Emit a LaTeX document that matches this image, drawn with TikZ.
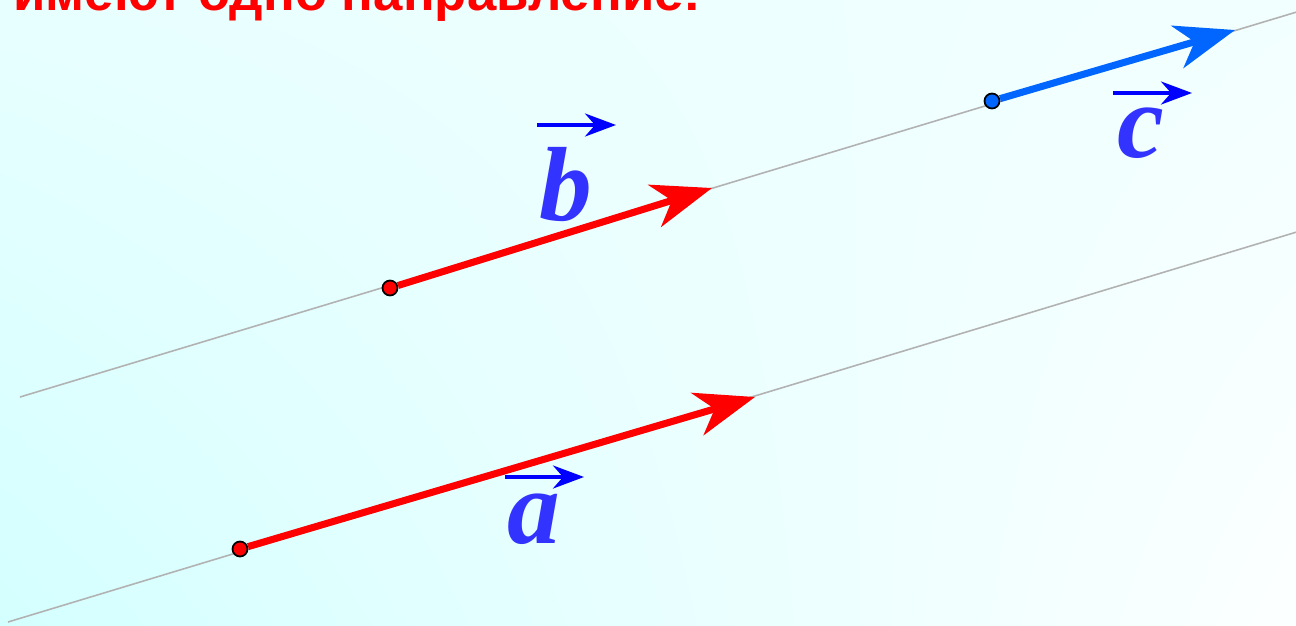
\documentclass[tikz,border=0pt]{standalone}
\usepackage{fontspec}
\setmainfont{Liberation Serif}
\newfontfamily\headfont{Liberation Sans}
\usetikzlibrary{arrows.meta,shadings}
\usepackage{xcolor}
\definecolor{bgul}{RGB}{232,255,255}
\definecolor{bgll}{RGB}{212,255,255}
\definecolor{bgur}{RGB}{242,255,255}
\definecolor{bglr}{RGB}{252,255,255}
\definecolor{guidegray}{RGB}{178,178,178}
\definecolor{vecred}{RGB}{255,0,0}
\definecolor{vecblue}{RGB}{0,102,255}
\definecolor{lblblue}{RGB}{51,51,255}
\definecolor{arrblue}{RGB}{0,0,255}

\begin{document}
\begin{tikzpicture}[
  x=0.02cm, y=-0.02cm,
  guide/.style={guidegray, line width=0.9pt},
  vec/.style={line width=4pt, -{Stealth[length=1.2cm, width=0.88cm, inset=0.36cm]}},
  pt/.style={circle, draw=black, line width=1pt, minimum size=0.3cm, inner sep=0pt},
  lbl/.style={lblblue, inner sep=0pt, anchor=base,
    font=\fontsize{60}{64}\selectfont\bfseries\itshape},
  overarr/.style={arrblue, line width=2.2pt,
    -{Stealth[length=0.62cm, width=0.46cm, inset=0.2cm]}}
]

%% ── Background ───────────────────────────────────────────────────────────────
\useasboundingbox (0,0) rectangle (1296,626);
\clip (0,0) rectangle (1296,626);
\shade[upper left=bgul, lower left=bgll, upper right=bgur, lower right=bglr]
  (0,0) rectangle (1296,626);

%% ── Heading (cut by the top edge) ────────────────────────────────────────────
\node[anchor=base west, inner sep=0pt, text=vecred,
  font=\headfont\bfseries\fontsize{30}{36}\selectfont]
  (head) at (13,10) {имеют одно направление:};

%% ── Parallel guide lines ─────────────────────────────────────────────────────
\coordinate (g1s) at (20,397);
\coordinate (g1e) at (1300,11);
\coordinate (g2s) at (8,622);
\coordinate (g2e) at (1300,231);
\draw[guide] (g1s) -- (g1e);
\draw[guide] (g2s) -- (g2e);

%% ── Vectors ──────────────────────────────────────────────────────────────────
\node[pt, fill=vecred]  (pa) at (240,549) {};
\node[pt, fill=vecred]  (pb) at (390,288) {};
\node[pt, fill=vecblue] (pc) at (992,101) {};
\coordinate (ta) at (755,397);
\coordinate (tb) at (712,188);
\coordinate (tc) at (1235,30);

\draw[vec, vecred]  (pa) -- (ta);
\draw[vec, vecred]  (pb) -- (tb);
\draw[vec, vecblue] (pc) -- (tc);

%% ── Labels ───────────────────────────────────────────────────────────────────
\node[lbl] (la) at (534,543) {a};
\node[lbl] (lb) at (566,220) {b};
\node[lbl] (lc) at (1141,157) {c};

\coordinate (oa1) at (505,477);  \coordinate (oa2) at (584,477);
\coordinate (ob1) at (537,125);  \coordinate (ob2) at (616,125);
\coordinate (oc1) at (1113,93);  \coordinate (oc2) at (1192,93);
\draw[overarr] (oa1) -- (oa2);
\draw[overarr] (ob1) -- (ob2);
\draw[overarr] (oc1) -- (oc2);

\end{tikzpicture}
\end{document}
